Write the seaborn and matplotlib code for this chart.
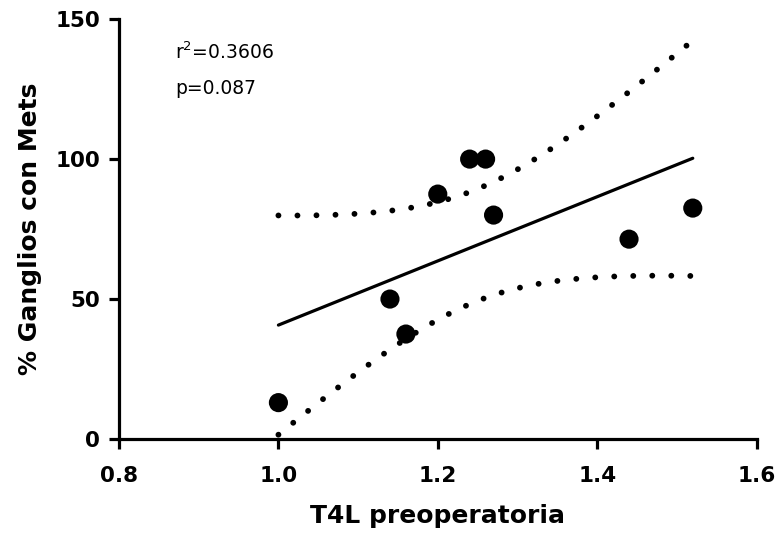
import numpy as np
import pandas as pd
import matplotlib
matplotlib.use("Agg")
import matplotlib.pyplot as plt
import seaborn as sns

# Data
t4l = [1.00, 1.14, 1.16, 1.20, 1.24, 1.26, 1.27, 1.44, 1.52]
ganglios = [13.0, 50.0, 37.5, 87.5, 100.0, 100.0, 80.0, 71.4, 82.5]
x_ticks = [0.8, 1.0, 1.2, 1.4, 1.6]
y_ticks = [0, 50, 100, 150]
annot_lines = ["r$^2$=0.3606", "p=0.087"]

df = pd.DataFrame({"x": t4l, "y": ganglios})

# Linear fit and 95% confidence band derived from the data
x = np.asarray(t4l)
y = np.asarray(ganglios)
n = len(x)
slope, intercept = np.polyfit(x, y, 1)
xx = np.linspace(x.min(), x.max(), 200)
yy = intercept + slope * xx
resid = y - (intercept + slope * x)
s = np.sqrt(np.sum(resid ** 2) / (n - 2))
sxx = np.sum((x - x.mean()) ** 2)
tval = 2.3646  # t(0.975, df=7)
half = tval * s * np.sqrt(1.0 / n + (xx - x.mean()) ** 2 / sxx)
fit = pd.DataFrame({"x": xx, "fit": yy, "lo": yy - half, "hi": yy + half})

sns.set_theme(style="white")
plt.rcParams["font.family"] = ["DejaVu Sans"]
plt.rcParams["mathtext.fontset"] = "dejavusans"
plt.rcParams["text.color"] = "black"
plt.rcParams["axes.labelcolor"] = "black"
plt.rcParams["xtick.color"] = "black"
plt.rcParams["ytick.color"] = "black"

fig = plt.figure(figsize=(7.76, 5.39), dpi=100)
ax = fig.add_axes([0.1534, 0.1855, 0.8215, 0.779])

sns.lineplot(data=fit, x="x", y="fit", ax=ax, color="black", lw=2.3)
for col in ["lo", "hi"]:
    sns.lineplot(data=fit, x="x", y=col, ax=ax, color="black", lw=4.2,
                 linestyle=(0, (0.01, 3.25)), dash_capstyle="round")
sns.scatterplot(data=df, x="x", y="y", ax=ax, color="black", s=190,
                edgecolor="none", zorder=5, clip_on=False)

ax.set_xlim(0.8, 1.6)
ax.set_ylim(0, 150)
ax.set_xticks(x_ticks)
ax.set_xticklabels([f"{v:.1f}" for v in x_ticks])
ax.set_yticks(y_ticks)
ax.set_yticklabels([str(v) for v in y_ticks])

for side in ["top", "right"]:
    ax.spines[side].set_visible(False)
for side in ["left", "bottom"]:
    ax.spines[side].set_linewidth(2.3)
    ax.spines[side].set_color("black")

ax.tick_params(axis="both", direction="out", length=7.5, width=2.3,
               colors="black", labelsize=15.5, bottom=True, left=True)
ax.tick_params(axis="x", pad=12)
ax.tick_params(axis="y", pad=6)
for lab in ax.get_xticklabels() + ax.get_yticklabels():
    lab.set_fontweight("bold")

ax.set_xlabel("T4L preoperatoria", fontsize=18, fontweight="bold",
              labelpad=13, color="black")
ax.set_ylabel("% Ganglios con Mets", fontsize=18, fontweight="bold",
              labelpad=10, color="black")

ax.text(0.088, 0.905, annot_lines[0], transform=ax.transAxes, fontsize=13.5,
        color="black", va="baseline")
ax.text(0.088, 0.821, annot_lines[1], transform=ax.transAxes, fontsize=13.5,
        color="black", va="baseline")

fig.savefig("out.png", dpi=100)
